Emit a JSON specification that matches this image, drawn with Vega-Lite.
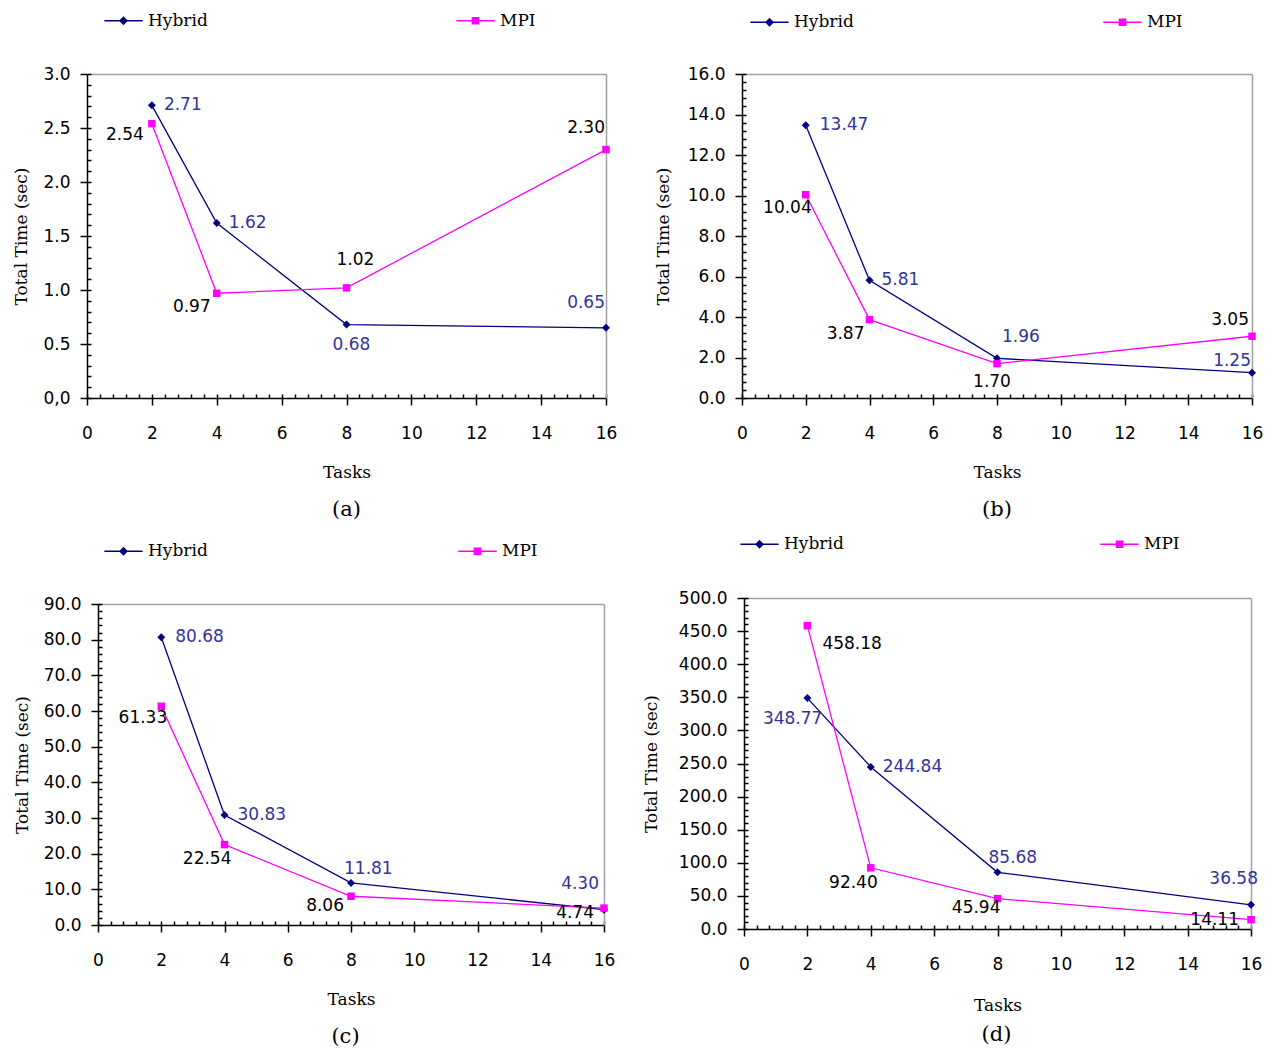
{
  "$schema": "https://vega.github.io/schema/vega-lite/v6.json",
  "background": "white",
  "padding": {"left": 12, "top": 1, "right": 0, "bottom": 0},
  "bounds": "flush",
  "align": "none",
  "columns": 2,
  "spacing": {"row": 206, "column": 136},
  "resolve": {"scale": {"color": "independent", "shape": "independent"}, "legend": {"color": "independent", "shape": "independent"}},
  "datasets": {
    "a": [
      {"task": 2, "time": 2.71, "series": "Hybrid"}, {"task": 4, "time": 1.62, "series": "Hybrid"}, {"task": 8, "time": 0.68, "series": "Hybrid"}, {"task": 16, "time": 0.65, "series": "Hybrid"},
      {"task": 2, "time": 2.54, "series": "MPI"}, {"task": 4, "time": 0.97, "series": "MPI"}, {"task": 8, "time": 1.02, "series": "MPI"}, {"task": 16, "time": 2.30, "series": "MPI"}
    ],
    "b": [
      {"task": 2, "time": 13.47, "series": "Hybrid"}, {"task": 4, "time": 5.81, "series": "Hybrid"}, {"task": 8, "time": 1.96, "series": "Hybrid"}, {"task": 16, "time": 1.25, "series": "Hybrid"},
      {"task": 2, "time": 10.04, "series": "MPI"}, {"task": 4, "time": 3.87, "series": "MPI"}, {"task": 8, "time": 1.70, "series": "MPI"}, {"task": 16, "time": 3.05, "series": "MPI"}
    ],
    "c": [
      {"task": 2, "time": 80.68, "series": "Hybrid"}, {"task": 4, "time": 30.83, "series": "Hybrid"}, {"task": 8, "time": 11.81, "series": "Hybrid"}, {"task": 16, "time": 4.30, "series": "Hybrid"},
      {"task": 2, "time": 61.33, "series": "MPI"}, {"task": 4, "time": 22.54, "series": "MPI"}, {"task": 8, "time": 8.06, "series": "MPI"}, {"task": 16, "time": 4.74, "series": "MPI"}
    ],
    "d": [
      {"task": 2, "time": 348.77, "series": "Hybrid"}, {"task": 4, "time": 244.84, "series": "Hybrid"}, {"task": 8, "time": 85.68, "series": "Hybrid"}, {"task": 16, "time": 36.58, "series": "Hybrid"},
      {"task": 2, "time": 458.18, "series": "MPI"}, {"task": 4, "time": 92.40, "series": "MPI"}, {"task": 8, "time": 45.94, "series": "MPI"}, {"task": 16, "time": 14.11, "series": "MPI"}
    ]
  },
  "concat": [
    {
      "width": 519, "height": 324,
      "data": {"name": "a"},
      "title": {"text": "(a)", "orient": "bottom", "frame": "group", "anchor": "middle", "offset": 19},
      "layer": [
        {
          "mark": {"type": "line", "strokeWidth": 1.3},
          "encoding": {
            "x": {"field": "task", "type": "quantitative", "scale": {"domain": [0, 16], "nice": false}, "axis": {"title": "Tasks", "values": [0, 2, 4, 6, 8, 10, 12, 14, 16]}},
            "y": {"field": "time", "type": "quantitative", "scale": {"domain": [0, 3], "nice": false}, "axis": {"title": "Total Time (sec)", "values": [0, 0.5, 1, 1.5, 2, 2.5, 3], "format": ".1f", "labelExpr": "datum.value === 0 ? '0,0' : datum.label"}},
            "color": {"field": "series", "type": "nominal", "scale": {"domain": ["Hybrid", "MPI"], "range": ["#000080", "#ff00ff"]}, "legend": {"orient": "none", "legendX": 17, "legendY": -73, "columnPadding": 246}}
          }
        },
        {
          "mark": {"type": "point", "filled": true, "size": 0},
          "encoding": {
            "x": {"field": "task", "type": "quantitative", "axis": null},
            "y": {"field": "time", "type": "quantitative", "axis": null},
            "color": {"field": "series", "type": "nominal", "legend": {"orient": "none", "legendX": 17, "legendY": -73, "columnPadding": 246}},
            "shape": {"field": "series", "type": "nominal", "scale": {"domain": ["Hybrid", "MPI"], "range": ["M-1,-0.01H1V0.01H-1ZM-0.19,0L0,-0.19L0.19,0L0,0.19Z", "M-1,-0.01H1V0.01H-1ZM-0.17,-0.17H0.17V0.17H-0.17Z"]}, "legend": {"orient": "none", "legendX": 17, "legendY": -73, "columnPadding": 246}}
          }
        },
        {
          "transform": [{"filter": "datum.series == 'Hybrid'"}],
          "mark": {"type": "point", "shape": "diamond", "filled": true, "size": 64, "color": "#000080", "opacity": 1},
          "encoding": {
            "x": {"field": "task", "type": "quantitative", "axis": {"orient": "bottom", "title": null, "labels": false, "domain": false, "tickSize": -4, "values": [0,0.4,0.8,1.2,1.6,2,2.4,2.8,3.2,3.6,4,4.4,4.8,5.2,5.6,6,6.4,6.8,7.2,7.6,8,8.4,8.8,9.2,9.6,10,10.4,10.8,11.2,11.6,12,12.4,12.8,13.2,13.6,14,14.4,14.8,15.2,15.6,16]}},
            "y": {"field": "time", "type": "quantitative", "axis": {"orient": "left", "title": null, "labels": false, "domain": false, "tickSize": -4, "values": [0,0.1,0.2,0.3,0.4,0.5,0.6,0.7,0.8,0.9,1,1.1,1.2,1.3,1.4,1.5,1.6,1.7,1.8,1.9,2,2.1,2.2,2.3,2.4,2.5,2.6,2.7,2.8,2.9,3]}}
          }
        },
        {
          "transform": [{"filter": "datum.series == 'MPI'"}],
          "mark": {"type": "point", "shape": "square", "filled": true, "size": 56, "color": "#ff00ff", "opacity": 1},
          "encoding": {
            "x": {"field": "task", "type": "quantitative", "axis": {"orient": "top", "title": null, "labels": false, "ticks": false, "domainColor": "#a0a0a0"}},
            "y": {"field": "time", "type": "quantitative", "axis": {"orient": "right", "title": null, "labels": false, "ticks": false, "domainColor": "#a0a0a0"}}
          }
        },
        {"transform": [{"filter": "datum.series == 'Hybrid' && datum.task == 2"}], "mark": {"type": "text", "align": "left", "dx": 12, "dy": 0, "color": "#333399"}, "encoding": {"x": {"field": "task", "type": "quantitative", "axis": null}, "y": {"field": "time", "type": "quantitative", "axis": null}, "text": {"field": "time", "type": "quantitative", "format": ".2f"}}},
        {"transform": [{"filter": "datum.series == 'MPI' && datum.task == 2"}], "mark": {"type": "text", "align": "right", "dx": -8, "dy": 11, "color": "black"}, "encoding": {"x": {"field": "task", "type": "quantitative", "axis": null}, "y": {"field": "time", "type": "quantitative", "axis": null}, "text": {"field": "time", "type": "quantitative", "format": ".2f"}}},
        {"transform": [{"filter": "datum.series == 'Hybrid' && datum.task == 4"}], "mark": {"type": "text", "align": "left", "dx": 12, "dy": 0, "color": "#333399"}, "encoding": {"x": {"field": "task", "type": "quantitative", "axis": null}, "y": {"field": "time", "type": "quantitative", "axis": null}, "text": {"field": "time", "type": "quantitative", "format": ".2f"}}},
        {"transform": [{"filter": "datum.series == 'MPI' && datum.task == 4"}], "mark": {"type": "text", "align": "right", "dx": -6, "dy": 14, "color": "black"}, "encoding": {"x": {"field": "task", "type": "quantitative", "axis": null}, "y": {"field": "time", "type": "quantitative", "axis": null}, "text": {"field": "time", "type": "quantitative", "format": ".2f"}}},
        {"transform": [{"filter": "datum.series == 'Hybrid' && datum.task == 8"}], "mark": {"type": "text", "align": "center", "dx": 5, "dy": 20, "color": "#333399"}, "encoding": {"x": {"field": "task", "type": "quantitative", "axis": null}, "y": {"field": "time", "type": "quantitative", "axis": null}, "text": {"field": "time", "type": "quantitative", "format": ".2f"}}},
        {"transform": [{"filter": "datum.series == 'MPI' && datum.task == 8"}], "mark": {"type": "text", "align": "center", "dx": 9, "dy": -28, "color": "black"}, "encoding": {"x": {"field": "task", "type": "quantitative", "axis": null}, "y": {"field": "time", "type": "quantitative", "axis": null}, "text": {"field": "time", "type": "quantitative", "format": ".2f"}}},
        {"transform": [{"filter": "datum.series == 'Hybrid' && datum.task == 16"}], "mark": {"type": "text", "align": "right", "dx": -1, "dy": -25, "color": "#333399"}, "encoding": {"x": {"field": "task", "type": "quantitative", "axis": null}, "y": {"field": "time", "type": "quantitative", "axis": null}, "text": {"field": "time", "type": "quantitative", "format": ".2f"}}},
        {"transform": [{"filter": "datum.series == 'MPI' && datum.task == 16"}], "mark": {"type": "text", "align": "right", "dx": -1, "dy": -22, "color": "black"}, "encoding": {"x": {"field": "task", "type": "quantitative", "axis": null}, "y": {"field": "time", "type": "quantitative", "axis": null}, "text": {"field": "time", "type": "quantitative", "format": ".2f"}}}
      ],
      "resolve": {"axis": {"x": "independent", "y": "independent"}}
    },
    {
      "width": 510, "height": 324,
      "data": {"name": "b"},
      "title": {"text": "(b)", "orient": "bottom", "frame": "group", "anchor": "middle", "offset": 19},
      "layer": [
        {
          "mark": {"type": "line", "strokeWidth": 1.3},
          "encoding": {
            "x": {"field": "task", "type": "quantitative", "scale": {"domain": [0, 16], "nice": false}, "axis": {"title": "Tasks", "values": [0, 2, 4, 6, 8, 10, 12, 14, 16]}},
            "y": {"field": "time", "type": "quantitative", "scale": {"domain": [0, 16], "nice": false}, "axis": {"title": "Total Time (sec)", "values": [0, 2, 4, 6, 8, 10, 12, 14, 16], "format": ".1f", "titlePadding": 15}},
            "color": {"field": "series", "type": "nominal", "scale": {"domain": ["Hybrid", "MPI"], "range": ["#000080", "#ff00ff"]}, "legend": {"orient": "none", "legendX": 8, "legendY": -71.5, "columnPadding": 247}}
          }
        },
        {
          "mark": {"type": "point", "filled": true, "size": 0},
          "encoding": {
            "x": {"field": "task", "type": "quantitative", "axis": null},
            "y": {"field": "time", "type": "quantitative", "axis": null},
            "color": {"field": "series", "type": "nominal", "legend": {"orient": "none", "legendX": 8, "legendY": -71.5, "columnPadding": 247}},
            "shape": {"field": "series", "type": "nominal", "scale": {"domain": ["Hybrid", "MPI"], "range": ["M-1,-0.01H1V0.01H-1ZM-0.19,0L0,-0.19L0.19,0L0,0.19Z", "M-1,-0.01H1V0.01H-1ZM-0.17,-0.17H0.17V0.17H-0.17Z"]}, "legend": {"orient": "none", "legendX": 8, "legendY": -71.5, "columnPadding": 247}}
          }
        },
        {
          "transform": [{"filter": "datum.series == 'Hybrid'"}],
          "mark": {"type": "point", "shape": "diamond", "filled": true, "size": 64, "color": "#000080", "opacity": 1},
          "encoding": {
            "x": {"field": "task", "type": "quantitative", "axis": {"orient": "bottom", "title": null, "labels": false, "domain": false, "tickSize": -4, "values": [0,0.4,0.8,1.2,1.6,2,2.4,2.8,3.2,3.6,4,4.4,4.8,5.2,5.6,6,6.4,6.8,7.2,7.6,8,8.4,8.8,9.2,9.6,10,10.4,10.8,11.2,11.6,12,12.4,12.8,13.2,13.6,14,14.4,14.8,15.2,15.6,16]}},
            "y": {"field": "time", "type": "quantitative", "axis": {"orient": "left", "title": null, "labels": false, "domain": false, "tickSize": -4, "values": [0,0.4,0.8,1.2,1.6,2,2.4,2.8,3.2,3.6,4,4.4,4.8,5.2,5.6,6,6.4,6.8,7.2,7.6,8,8.4,8.8,9.2,9.6,10,10.4,10.8,11.2,11.6,12,12.4,12.8,13.2,13.6,14,14.4,14.8,15.2,15.6,16]}}
          }
        },
        {
          "transform": [{"filter": "datum.series == 'MPI'"}],
          "mark": {"type": "point", "shape": "square", "filled": true, "size": 56, "color": "#ff00ff", "opacity": 1},
          "encoding": {
            "x": {"field": "task", "type": "quantitative", "axis": {"orient": "top", "title": null, "labels": false, "ticks": false, "domainColor": "#a0a0a0"}},
            "y": {"field": "time", "type": "quantitative", "axis": {"orient": "right", "title": null, "labels": false, "ticks": false, "domainColor": "#a0a0a0"}}
          }
        },
        {"transform": [{"filter": "datum.series == 'Hybrid' && datum.task == 2"}], "mark": {"type": "text", "align": "left", "dx": 14, "dy": 0, "color": "#333399"}, "encoding": {"x": {"field": "task", "type": "quantitative", "axis": null}, "y": {"field": "time", "type": "quantitative", "axis": null}, "text": {"field": "time", "type": "quantitative", "format": ".2f"}}},
        {"transform": [{"filter": "datum.series == 'MPI' && datum.task == 2"}], "mark": {"type": "text", "align": "right", "dx": 6, "dy": 13, "color": "black"}, "encoding": {"x": {"field": "task", "type": "quantitative", "axis": null}, "y": {"field": "time", "type": "quantitative", "axis": null}, "text": {"field": "time", "type": "quantitative", "format": ".2f"}}},
        {"transform": [{"filter": "datum.series == 'Hybrid' && datum.task == 4"}], "mark": {"type": "text", "align": "left", "dx": 12, "dy": 0, "color": "#333399"}, "encoding": {"x": {"field": "task", "type": "quantitative", "axis": null}, "y": {"field": "time", "type": "quantitative", "axis": null}, "text": {"field": "time", "type": "quantitative", "format": ".2f"}}},
        {"transform": [{"filter": "datum.series == 'MPI' && datum.task == 4"}], "mark": {"type": "text", "align": "right", "dx": -5, "dy": 14, "color": "black"}, "encoding": {"x": {"field": "task", "type": "quantitative", "axis": null}, "y": {"field": "time", "type": "quantitative", "axis": null}, "text": {"field": "time", "type": "quantitative", "format": ".2f"}}},
        {"transform": [{"filter": "datum.series == 'Hybrid' && datum.task == 8"}], "mark": {"type": "text", "align": "left", "dx": 5, "dy": -21, "color": "#333399"}, "encoding": {"x": {"field": "task", "type": "quantitative", "axis": null}, "y": {"field": "time", "type": "quantitative", "axis": null}, "text": {"field": "time", "type": "quantitative", "format": ".2f"}}},
        {"transform": [{"filter": "datum.series == 'MPI' && datum.task == 8"}], "mark": {"type": "text", "align": "center", "dx": -5, "dy": 18, "color": "black"}, "encoding": {"x": {"field": "task", "type": "quantitative", "axis": null}, "y": {"field": "time", "type": "quantitative", "axis": null}, "text": {"field": "time", "type": "quantitative", "format": ".2f"}}},
        {"transform": [{"filter": "datum.series == 'Hybrid' && datum.task == 16"}], "mark": {"type": "text", "align": "right", "dx": -1, "dy": -12, "color": "#333399"}, "encoding": {"x": {"field": "task", "type": "quantitative", "axis": null}, "y": {"field": "time", "type": "quantitative", "axis": null}, "text": {"field": "time", "type": "quantitative", "format": ".2f"}}},
        {"transform": [{"filter": "datum.series == 'MPI' && datum.task == 16"}], "mark": {"type": "text", "align": "right", "dx": -3, "dy": -16, "color": "black"}, "encoding": {"x": {"field": "task", "type": "quantitative", "axis": null}, "y": {"field": "time", "type": "quantitative", "axis": null}, "text": {"field": "time", "type": "quantitative", "format": ".2f"}}}
      ],
      "resolve": {"axis": {"x": "independent", "y": "independent"}}
    },
    {
      "width": 517, "height": 321,
      "data": {"name": "c"},
      "title": {"text": "(c)", "orient": "bottom", "frame": "group", "anchor": "middle", "offset": 19},
      "layer": [
        {
          "mark": {"type": "line", "strokeWidth": 1.3},
          "encoding": {
            "x": {"field": "task", "type": "quantitative", "scale": {"domain": [0, 16], "nice": false, "range": [11, 517]}, "axis": {"title": "Tasks", "values": [0, 2, 4, 6, 8, 10, 12, 14, 16]}},
            "y": {"field": "time", "type": "quantitative", "scale": {"domain": [0, 90], "nice": false}, "axis": {"title": "Total Time (sec)", "offset": -11, "values": [0, 10, 20, 30, 40, 50, 60, 70, 80, 90], "format": ".1f"}},
            "color": {"field": "series", "type": "nominal", "scale": {"domain": ["Hybrid", "MPI"], "range": ["#000080", "#ff00ff"]}, "legend": {"orient": "none", "legendX": 17, "legendY": -72.5, "columnPadding": 248}}
          }
        },
        {
          "mark": {"type": "point", "filled": true, "size": 0},
          "encoding": {
            "x": {"field": "task", "type": "quantitative", "axis": null},
            "y": {"field": "time", "type": "quantitative", "axis": null},
            "color": {"field": "series", "type": "nominal", "legend": {"orient": "none", "legendX": 17, "legendY": -72.5, "columnPadding": 248}},
            "shape": {"field": "series", "type": "nominal", "scale": {"domain": ["Hybrid", "MPI"], "range": ["M-1,-0.01H1V0.01H-1ZM-0.19,0L0,-0.19L0.19,0L0,0.19Z", "M-1,-0.01H1V0.01H-1ZM-0.17,-0.17H0.17V0.17H-0.17Z"]}, "legend": {"orient": "none", "legendX": 17, "legendY": -72.5, "columnPadding": 248}}
          }
        },
        {
          "transform": [{"filter": "datum.series == 'Hybrid'"}],
          "mark": {"type": "point", "shape": "diamond", "filled": true, "size": 64, "color": "#000080", "opacity": 1},
          "encoding": {
            "x": {"field": "task", "type": "quantitative", "axis": {"orient": "bottom", "title": null, "labels": false, "domain": false, "tickSize": -4, "values": [0,0.4,0.8,1.2,1.6,2,2.4,2.8,3.2,3.6,4,4.4,4.8,5.2,5.6,6,6.4,6.8,7.2,7.6,8,8.4,8.8,9.2,9.6,10,10.4,10.8,11.2,11.6,12,12.4,12.8,13.2,13.6,14,14.4,14.8,15.2,15.6,16]}},
            "y": {"field": "time", "type": "quantitative", "axis": {"orient": "left", "offset": -11, "title": null, "labels": false, "domain": false, "tickSize": -4, "values": [0,2,4,6,8,10,12,14,16,18,20,22,24,26,28,30,32,34,36,38,40,42,44,46,48,50,52,54,56,58,60,62,64,66,68,70,72,74,76,78,80,82,84,86,88,90]}}
          }
        },
        {
          "transform": [{"filter": "datum.series == 'MPI'"}],
          "mark": {"type": "point", "shape": "square", "filled": true, "size": 56, "color": "#ff00ff", "opacity": 1},
          "encoding": {
            "x": {"field": "task", "type": "quantitative", "axis": {"orient": "top", "title": null, "labels": false, "ticks": false, "domainColor": "#a0a0a0"}},
            "y": {"field": "time", "type": "quantitative", "axis": {"orient": "right", "title": null, "labels": false, "ticks": false, "domainColor": "#a0a0a0"}}
          }
        },
        {"transform": [{"filter": "datum.series == 'Hybrid' && datum.task == 2"}], "mark": {"type": "text", "align": "left", "dx": 14, "dy": 0, "color": "#333399"}, "encoding": {"x": {"field": "task", "type": "quantitative", "axis": null}, "y": {"field": "time", "type": "quantitative", "axis": null}, "text": {"field": "time", "type": "quantitative", "format": ".2f"}}},
        {"transform": [{"filter": "datum.series == 'MPI' && datum.task == 2"}], "mark": {"type": "text", "align": "right", "dx": 6, "dy": 12, "color": "black"}, "encoding": {"x": {"field": "task", "type": "quantitative", "axis": null}, "y": {"field": "time", "type": "quantitative", "axis": null}, "text": {"field": "time", "type": "quantitative", "format": ".2f"}}},
        {"transform": [{"filter": "datum.series == 'Hybrid' && datum.task == 4"}], "mark": {"type": "text", "align": "left", "dx": 13, "dy": 0, "color": "#333399"}, "encoding": {"x": {"field": "task", "type": "quantitative", "axis": null}, "y": {"field": "time", "type": "quantitative", "axis": null}, "text": {"field": "time", "type": "quantitative", "format": ".2f"}}},
        {"transform": [{"filter": "datum.series == 'MPI' && datum.task == 4"}], "mark": {"type": "text", "align": "right", "dx": 7, "dy": 14, "color": "black"}, "encoding": {"x": {"field": "task", "type": "quantitative", "axis": null}, "y": {"field": "time", "type": "quantitative", "axis": null}, "text": {"field": "time", "type": "quantitative", "format": ".2f"}}},
        {"transform": [{"filter": "datum.series == 'Hybrid' && datum.task == 8"}], "mark": {"type": "text", "align": "left", "dx": -7, "dy": -14, "color": "#333399"}, "encoding": {"x": {"field": "task", "type": "quantitative", "axis": null}, "y": {"field": "time", "type": "quantitative", "axis": null}, "text": {"field": "time", "type": "quantitative", "format": ".2f"}}},
        {"transform": [{"filter": "datum.series == 'MPI' && datum.task == 8"}], "mark": {"type": "text", "align": "right", "dx": -7, "dy": 10, "color": "black"}, "encoding": {"x": {"field": "task", "type": "quantitative", "axis": null}, "y": {"field": "time", "type": "quantitative", "axis": null}, "text": {"field": "time", "type": "quantitative", "format": ".2f"}}},
        {"transform": [{"filter": "datum.series == 'Hybrid' && datum.task == 16"}], "mark": {"type": "text", "align": "right", "dx": -5, "dy": -26, "color": "#333399"}, "encoding": {"x": {"field": "task", "type": "quantitative", "axis": null}, "y": {"field": "time", "type": "quantitative", "axis": null}, "text": {"field": "time", "type": "quantitative", "format": ".2f"}}},
        {"transform": [{"filter": "datum.series == 'MPI' && datum.task == 16"}], "mark": {"type": "text", "align": "right", "dx": -10, "dy": 5, "color": "black"}, "encoding": {"x": {"field": "task", "type": "quantitative", "axis": null}, "y": {"field": "time", "type": "quantitative", "axis": null}, "text": {"field": "time", "type": "quantitative", "format": ".2f"}}}
      ],
      "resolve": {"axis": {"x": "independent", "y": "independent"}}
    },
    {
      "width": 509, "height": 325,
      "data": {"name": "d"},
      "title": {"text": "(d)", "orient": "bottom", "frame": "group", "anchor": "middle", "offset": 11},
      "layer": [
        {
          "mark": {"type": "line", "strokeWidth": 1.3},
          "encoding": {
            "x": {"field": "task", "type": "quantitative", "scale": {"domain": [0, 16], "nice": false, "range": [2, 509]}, "axis": {"title": "Tasks", "titlePadding": 25, "values": [0, 2, 4, 6, 8, 10, 12, 14, 16]}},
            "y": {"field": "time", "type": "quantitative", "scale": {"domain": [0, 500], "nice": false, "range": [325, -6]}, "axis": {"title": "Total Time (sec)", "offset": -2, "values": [0, 50, 100, 150, 200, 250, 300, 350, 400, 450, 500], "format": ".1f", "titlePadding": 18}},
            "color": {"field": "series", "type": "nominal", "scale": {"domain": ["Hybrid", "MPI"], "range": ["#000080", "#ff00ff"]}, "legend": {"orient": "none", "legendX": -2, "legendY": -79.5, "columnPadding": 254}}
          }
        },
        {
          "mark": {"type": "point", "filled": true, "size": 0},
          "encoding": {
            "x": {"field": "task", "type": "quantitative", "axis": null},
            "y": {"field": "time", "type": "quantitative", "axis": null},
            "color": {"field": "series", "type": "nominal", "legend": {"orient": "none", "legendX": -2, "legendY": -79.5, "columnPadding": 254}},
            "shape": {"field": "series", "type": "nominal", "scale": {"domain": ["Hybrid", "MPI"], "range": ["M-1,-0.01H1V0.01H-1ZM-0.19,0L0,-0.19L0.19,0L0,0.19Z", "M-1,-0.01H1V0.01H-1ZM-0.17,-0.17H0.17V0.17H-0.17Z"]}, "legend": {"orient": "none", "legendX": -2, "legendY": -79.5, "columnPadding": 254}}
          }
        },
        {
          "transform": [{"filter": "datum.series == 'Hybrid'"}],
          "mark": {"type": "point", "shape": "diamond", "filled": true, "size": 64, "color": "#000080", "opacity": 1},
          "encoding": {
            "x": {"field": "task", "type": "quantitative", "axis": {"orient": "bottom", "title": null, "labels": false, "domain": false, "tickSize": -4, "values": [0,0.4,0.8,1.2,1.6,2,2.4,2.8,3.2,3.6,4,4.4,4.8,5.2,5.6,6,6.4,6.8,7.2,7.6,8,8.4,8.8,9.2,9.6,10,10.4,10.8,11.2,11.6,12,12.4,12.8,13.2,13.6,14,14.4,14.8,15.2,15.6,16]}},
            "y": {"field": "time", "type": "quantitative", "axis": {"orient": "left", "offset": -2, "title": null, "labels": false, "domain": false, "tickSize": -4, "values": [0,10,20,30,40,50,60,70,80,90,100,110,120,130,140,150,160,170,180,190,200,210,220,230,240,250,260,270,280,290,300,310,320,330,340,350,360,370,380,390,400,410,420,430,440,450,460,470,480,490,500]}}
          }
        },
        {
          "transform": [{"filter": "datum.series == 'MPI'"}],
          "mark": {"type": "point", "shape": "square", "filled": true, "size": 56, "color": "#ff00ff", "opacity": 1},
          "encoding": {
            "x": {"field": "task", "type": "quantitative", "axis": {"orient": "top", "offset": 6, "title": null, "labels": false, "ticks": false, "domainColor": "#a0a0a0"}},
            "y": {"field": "time", "type": "quantitative", "axis": {"orient": "right", "title": null, "labels": false, "ticks": false, "domainColor": "#a0a0a0"}}
          }
        },
        {"transform": [{"filter": "datum.series == 'MPI' && datum.task == 2"}], "mark": {"type": "text", "align": "left", "dx": 15, "dy": 18, "color": "black"}, "encoding": {"x": {"field": "task", "type": "quantitative", "axis": null}, "y": {"field": "time", "type": "quantitative", "axis": null}, "text": {"field": "time", "type": "quantitative", "format": ".2f"}}},
        {"transform": [{"filter": "datum.series == 'Hybrid' && datum.task == 2"}], "mark": {"type": "text", "align": "right", "dx": 15, "dy": 21, "color": "#333399"}, "encoding": {"x": {"field": "task", "type": "quantitative", "axis": null}, "y": {"field": "time", "type": "quantitative", "axis": null}, "text": {"field": "time", "type": "quantitative", "format": ".2f"}}},
        {"transform": [{"filter": "datum.series == 'Hybrid' && datum.task == 4"}], "mark": {"type": "text", "align": "left", "dx": 12, "dy": 0, "color": "#333399"}, "encoding": {"x": {"field": "task", "type": "quantitative", "axis": null}, "y": {"field": "time", "type": "quantitative", "axis": null}, "text": {"field": "time", "type": "quantitative", "format": ".2f"}}},
        {"transform": [{"filter": "datum.series == 'MPI' && datum.task == 4"}], "mark": {"type": "text", "align": "right", "dx": 7, "dy": 15, "color": "black"}, "encoding": {"x": {"field": "task", "type": "quantitative", "axis": null}, "y": {"field": "time", "type": "quantitative", "axis": null}, "text": {"field": "time", "type": "quantitative", "format": ".2f"}}},
        {"transform": [{"filter": "datum.series == 'Hybrid' && datum.task == 8"}], "mark": {"type": "text", "align": "left", "dx": -9, "dy": -14, "color": "#333399"}, "encoding": {"x": {"field": "task", "type": "quantitative", "axis": null}, "y": {"field": "time", "type": "quantitative", "axis": null}, "text": {"field": "time", "type": "quantitative", "format": ".2f"}}},
        {"transform": [{"filter": "datum.series == 'MPI' && datum.task == 8"}], "mark": {"type": "text", "align": "right", "dx": 3, "dy": 9, "color": "black"}, "encoding": {"x": {"field": "task", "type": "quantitative", "axis": null}, "y": {"field": "time", "type": "quantitative", "axis": null}, "text": {"field": "time", "type": "quantitative", "format": ".2f"}}},
        {"transform": [{"filter": "datum.series == 'Hybrid' && datum.task == 16"}], "mark": {"type": "text", "align": "right", "dx": 7, "dy": -26, "color": "#333399"}, "encoding": {"x": {"field": "task", "type": "quantitative", "axis": null}, "y": {"field": "time", "type": "quantitative", "axis": null}, "text": {"field": "time", "type": "quantitative", "format": ".2f"}}},
        {"transform": [{"filter": "datum.series == 'MPI' && datum.task == 16"}], "mark": {"type": "text", "align": "right", "dx": -12, "dy": 0, "color": "black"}, "encoding": {"x": {"field": "task", "type": "quantitative", "axis": null}, "y": {"field": "time", "type": "quantitative", "axis": null}, "text": {"field": "time", "type": "quantitative", "format": ".2f"}}}
      ],
      "resolve": {"axis": {"x": "independent", "y": "independent"}}
    }
  ],
  "config": {
    "view": {"stroke": null},
    "font": "DejaVu Sans",
    "axis": {"grid": false, "domainColor": "black", "domainWidth": 1.5, "tickColor": "black", "tickWidth": 1.5, "labelFont": "DejaVu Sans", "labelFontSize": 17, "labelColor": "black", "labelFlush": false, "labelOverlap": false, "titleFont": "DejaVu Serif", "titleFontSize": 17, "titleFontWeight": "normal", "titleColor": "black"},
    "axisX": {"tickSize": 7, "labelPadding": 20, "titlePadding": 23},
    "axisY": {"tickSize": 7, "labelPadding": 10, "titlePadding": 12},
    "legend": {"direction": "horizontal", "title": null, "symbolSize": 1369, "symbolStrokeWidth": 0, "symbolOpacity": 1, "labelFont": "DejaVu Serif", "labelFontSize": 17, "labelColor": "black", "labelOffset": 5, "padding": 0},
    "title": {"font": "DejaVu Serif", "fontSize": 21, "fontWeight": "normal", "color": "black"},
    "text": {"font": "DejaVu Sans", "fontSize": 17, "baseline": "middle"},
    "line": {"strokeWidth": 1.3}
  }
}
